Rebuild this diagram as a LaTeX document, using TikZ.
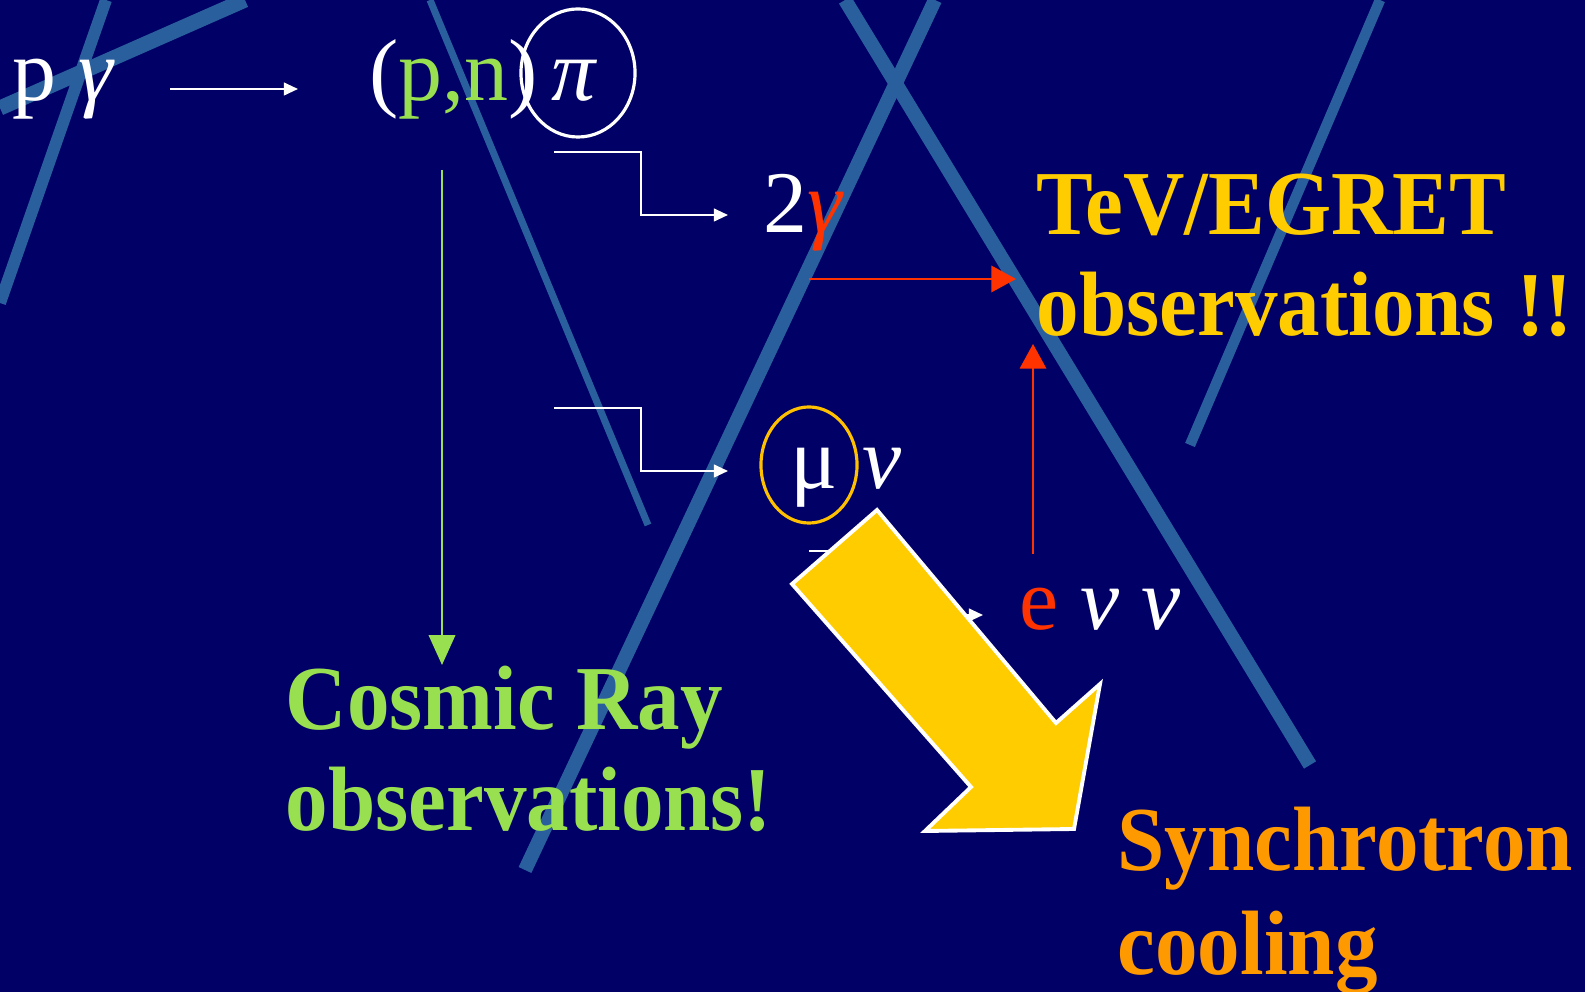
\documentclass[tikz,border=0pt]{standalone}
\usepackage{fontspec}
\setmainfont{Liberation Serif}
\usetikzlibrary{arrows.meta,calc,shapes.geometric}
\definecolor{navy}{HTML}{000066}
\definecolor{stripe}{HTML}{2A5F9E}
\definecolor{crgreen}{HTML}{99E050}
\definecolor{gold}{HTML}{FFCC00}
\definecolor{ringgold}{HTML}{FFC000}
\definecolor{hotred}{HTML}{FF3300}
\definecolor{synorange}{HTML}{FF9900}

\begin{document}
\begin{tikzpicture}[x=0.01cm,y=-0.01cm,
  txt/.style={inner sep=0pt,anchor=base west,text=white,font=\fontsize{25}{30}\selectfont},
  big/.style={inner sep=0pt,anchor=base west,xscale=0.93,font=\fontsize{26}{31}\selectfont\bfseries},
  ring/.style={ellipse,inner sep=0pt,line width=0.9pt},
  wire/.style={white,line width=0.6pt,-{Triangle[length=4pt,width=3.6pt]}},
  redarr/.style={hotred,line width=0.6pt,-{Triangle[length=7pt,width=7.5pt]}},
  band/.style={stripe,line width=#1}]
  % background and stripes
  \fill[navy] (0,0) rectangle (1585,992);
  \useasboundingbox (0,0) rectangle (1585,992);
  \begin{scope}
    \clip (0,0) rectangle (1585,992);
    \foreach \xa/\ya/\xb/\yb/\w in {106/0/0/303/3.4pt, 0/108/245/0/4.3pt,
      430/0/648/525/2pt, 935/0/525/870/4pt, 845/0/1310/765/4pt, 1380/0/1190/445/3pt}
      \draw[band=\w] (\xa,\ya) -- (\xb,\yb);
  \end{scope}

  % reaction chain
  \node[txt] (pg) at (12,101) {p \itshape γ};
  \node[txt] (pn) at (369,101) {(\textcolor{crgreen}{p,n})};
  \node[ring,draw=white,minimum width=1.14cm,minimum height=1.28cm] (pi) at (578,73) {};
  \node[txt] (pisym) at (551,101) {\itshape π};
  \node[txt] (twog) at (763,233) {2\textcolor{hotred}{\itshape γ}};
  \node[ring,draw=ringgold,minimum width=0.96cm,minimum height=1.16cm] (mu) at (809,465) {};
  \node[txt] (musym) at (790,489) {μ};
  \node[txt] (nu) at (862,489) {\itshape ν};
  \node[txt] (env) at (1019,630) {\textcolor{hotred}{e} \itshape ν ν};

  % observations
  \node[big,text=gold] (tev) at (1036,235) {TeV/EGRET};
  \node[big,text=gold] (tevobs) at (1036,336) {observations !!};
  \node[big,text=crgreen] (cr) at (285,730) {Cosmic Ray};
  \node[big,text=crgreen] (crobs) at (285,831) {observations!};
  \node[big,text=synorange] (syn) at (1117,871) {Synchrotron};
  \node[big,text=synorange] (cool) at (1117,975) {cooling};

  % arrow ends
  \coordinate (a0) at (170,89);  \coordinate (a1) at (298,89);
  \coordinate (g0) at (442,170); \coordinate (g1) at (442,665);
  \coordinate (b1) at (554,152); \coordinate (t1) at (728,215);
  \coordinate (b2) at (554,408); \coordinate (t2) at (728,471);
  \coordinate (b3) at (809,551); \coordinate (t3) at (983,615);
  \coordinate (r0) at (809,279); \coordinate (r1) at (1016,279);
  \coordinate (v0) at (1033,554); \coordinate (v1) at (1033,344);

  \draw[wire] (a0) -- (a1);
  \draw[crgreen,line width=0.7pt,-{Triangle[length=8.5pt,width=7.5pt]}] (g0) -- (g1);
  \foreach \s/\t in {b1/t1,b2/t2,b3/t3}
    \draw[wire] (\s) -| ($(\s)!0.5!(\t)$) |- (\t);
  \draw[redarr] (r0) -- (r1);
  \draw[redarr] (v0) -- (v1);

  % cooling arrow
  \draw[fill=gold,draw=white,line width=1.1pt,line join=miter]
    (877,510) -- (1056,723) -- (1100,684) -- (1074,829) -- (925,831) -- (971,787) -- (792,584) -- cycle;
\end{tikzpicture}
\end{document}
